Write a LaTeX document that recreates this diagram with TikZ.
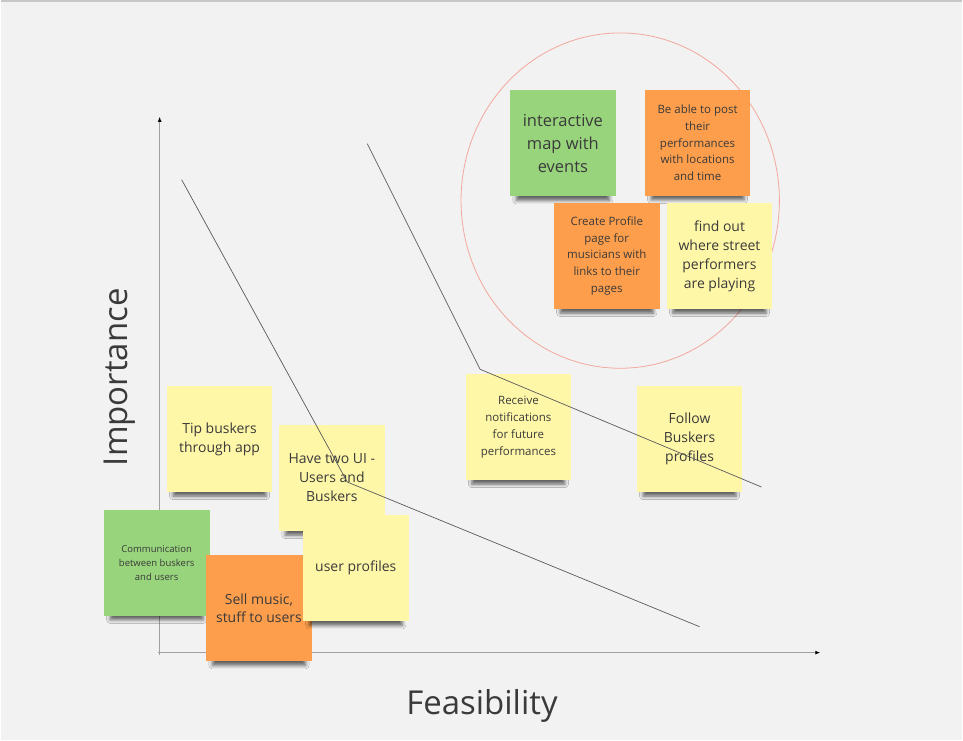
\documentclass[tikz,border=0pt]{standalone}
\usepackage{fontspec}
\setmainfont{Open Sans}
\usetikzlibrary{arrows.meta, shadows.blur}
\definecolor{boardbg}{HTML}{F2F2F2}
\definecolor{noteyellow}{HTML}{FFF7A8}
\definecolor{notegreen}{HTML}{98D47C}
\definecolor{noteorange}{HTML}{FD9E4C}
\definecolor{ringred}{HTML}{F2A89C}
\definecolor{axisgray}{HTML}{A0A0A0}
\definecolor{inkgray}{HTML}{3A3A3A}

\begin{document}
\begin{tikzpicture}[x=1pt, y=-1pt,
    note/.style={fill=#1, minimum width=106pt, minimum height=106pt, inner sep=0pt,
                 align=center, text=inkgray,
                 blur shadow={shadow xshift=0pt, shadow yshift=-12pt, shadow scale=0.88,
                              shadow opacity=60, shadow blur radius=4pt}},
    bigtxt/.style={font=\fontsize{16.5}{23}\selectfont},
    midtxt/.style={font=\fontsize{14}{19}\selectfont},
    smalltxt/.style={font=\fontsize{11.5}{17}\selectfont},
    tinytxt/.style={font=\fontsize{9.5}{14}\selectfont},
    axis/.style={axisgray, line width=1pt, -{Latex[length=5pt, width=4pt, color=black]}},
    split/.style={draw=black!65, line width=0.7pt},
    title/.style={font=\fontsize{33}{40}\selectfont, text=inkgray},
]
    % board
    \fill[boardbg] (0,0) rectangle (963,742);
    \draw[black!22, line width=2pt] (0,1) -- (963,1);

    % axes
    \coordinate (origin) at (159,654);
    \coordinate (ytop) at (159,117);
    \coordinate (xend) at (821,654);
    \draw[axis] (159,656) -- (ytop);
    \draw[axis] (157,654) -- (xend);
    \node[title, rotate=90] (importance) at (119,378) {Importance};
    \node[title] (feasibility) at (482,707) {Feasibility};

    % priority ring
    \draw[ringred, line width=0.8pt] (620.5,201) ellipse [x radius=159.5, y radius=168];

    % === top right group ===
    \node[note=notegreen, bigtxt] (mapnote) at (563,143.5) {interactive\\map with\\events};
    \node[note=noteorange, smalltxt] (postnote) at (698,143) {Be able to post\\their\\performances\\with locations\\and time};
    \node[note=noteorange, smalltxt] (profilenote) at (607,256.5) {Create Profile\\page for\\musicians with\\links to their\\pages};
    \node[note=noteyellow, midtxt] (findnote) at (720,256.5) {find out\\where street\\performers\\are playing};

    % === middle right ===
    \node[note=noteyellow, smalltxt] (notifynote) at (518.5,428) {Receive\\notifications\\for future\\performances};
    \node[note=noteyellow, midtxt] (follownote) at (690,440) {Follow\\Buskers\\profiles};

    % === bottom left ===
    \node[note=noteyellow, midtxt] (tipnote) at (219,440) {Tip buskers\\through app};
    \node[note=noteyellow, midtxt] (uinote) at (331.5,479) {Have two UI -\\Users and\\Buskers};
    \node[note=notegreen, tinytxt] (chatnote) at (156,564) {Communication\\between buskers\\and users};
    \node[note=noteorange, midtxt] (sellnote) at (258.5,609.5) {Sell music,\\stuff to users};
    \node[note=noteyellow, midtxt] (usernote) at (355.5,569.5) {user profiles};

    % dividing lines
    \coordinate (a1) at (181,180);
    \coordinate (a2) at (347,483);
    \coordinate (a3) at (700,628);
    \coordinate (b1) at (367,144);
    \coordinate (b2) at (480,370);
    \coordinate (b3) at (762,488);
    \draw[split] (a1) -- (a2) -- (a3);
    \draw[split] (b1) -- (b2) -- (b3);
\end{tikzpicture}
\end{document}
